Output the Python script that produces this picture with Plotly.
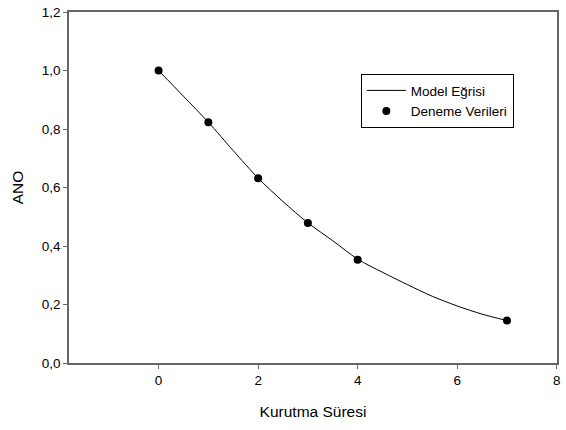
import plotly.graph_objects as go

# Experimental data (Deneme Verileri)
t_data = [0, 1, 2, 3, 4, 7]
ano_data = [1.0, 0.823, 0.632, 0.479, 0.353, 0.145]

# Model curve (Model Eğrisi)
t_model = [0, 0.5, 1, 1.5, 2, 2.5, 3, 3.5, 4, 4.5, 5, 5.5, 6, 6.5, 7]
ano_model = [1.0, 0.912, 0.823, 0.726, 0.632, 0.552, 0.479, 0.418, 0.355, 0.31, 0.268, 0.228, 0.195, 0.167, 0.145]

x_ticks = [0, 2, 4, 6, 8]
x_tick_labels = ["0", "2", "4", "6", "8"]
y_ticks = [0.0, 0.2, 0.4, 0.6, 0.8, 1.0, 1.2]
y_tick_labels = ["0,0", "0,2", "0,4", "0,6", "0,8", "1,0", "1,2"]

axis_color = "#666666"
font_family = "Liberation Sans, Arial, sans-serif"

fig = go.Figure()
fig.add_trace(go.Scatter(
    x=t_model, y=ano_model, mode="lines", name="Model Eğrisi",
    line=dict(color="black", width=1, shape="spline", smoothing=0.8),
))
fig.add_trace(go.Scatter(
    x=t_data, y=ano_data, mode="markers", name="Deneme Verileri",
    marker=dict(color="black", size=8),
))

fig.update_layout(
    width=566, height=430,
    margin=dict(l=69, r=5, t=12, b=67),
    paper_bgcolor="white", plot_bgcolor="white",
    font=dict(family=font_family, size=13.5, color="black"),
    showlegend=True,
    legend=dict(
        x=0.598, y=0.823, xanchor="left", yanchor="top",
        bordercolor="black", borderwidth=1, bgcolor="white",
        font=dict(size=13.5), tracegroupgap=0, itemwidth=39,
    ),
    xaxis=dict(
        range=[-1.8, 8.005], tickvals=x_ticks, ticktext=x_tick_labels,
        showline=True, mirror=True, linecolor=axis_color, linewidth=1.5,
        ticks="outside", ticklen=4, tickcolor=axis_color, tickwidth=1,
        showgrid=False, zeroline=False, ticklabeloverflow="allow",
        title=dict(text="Kurutma Süresi", font=dict(size=15.5), standoff=19),
        tickfont=dict(size=13.5),
    ),
    yaxis=dict(
        range=[0, 1.2], tickvals=y_ticks, ticktext=y_tick_labels,
        showline=True, mirror=True, linecolor=axis_color, linewidth=1.5,
        ticks="outside", ticklen=4, tickcolor=axis_color, tickwidth=1,
        showgrid=False, zeroline=False,
        title=dict(text="ANO", font=dict(size=15.5), standoff=14),
        tickfont=dict(size=13.5),
    ),
)

fig.write_html(
    "out.html",
    config={"displayModeBar": False},
    post_script="document.body.style.margin='0';document.body.style.padding='0';document.body.style.overflow='hidden';",
)
